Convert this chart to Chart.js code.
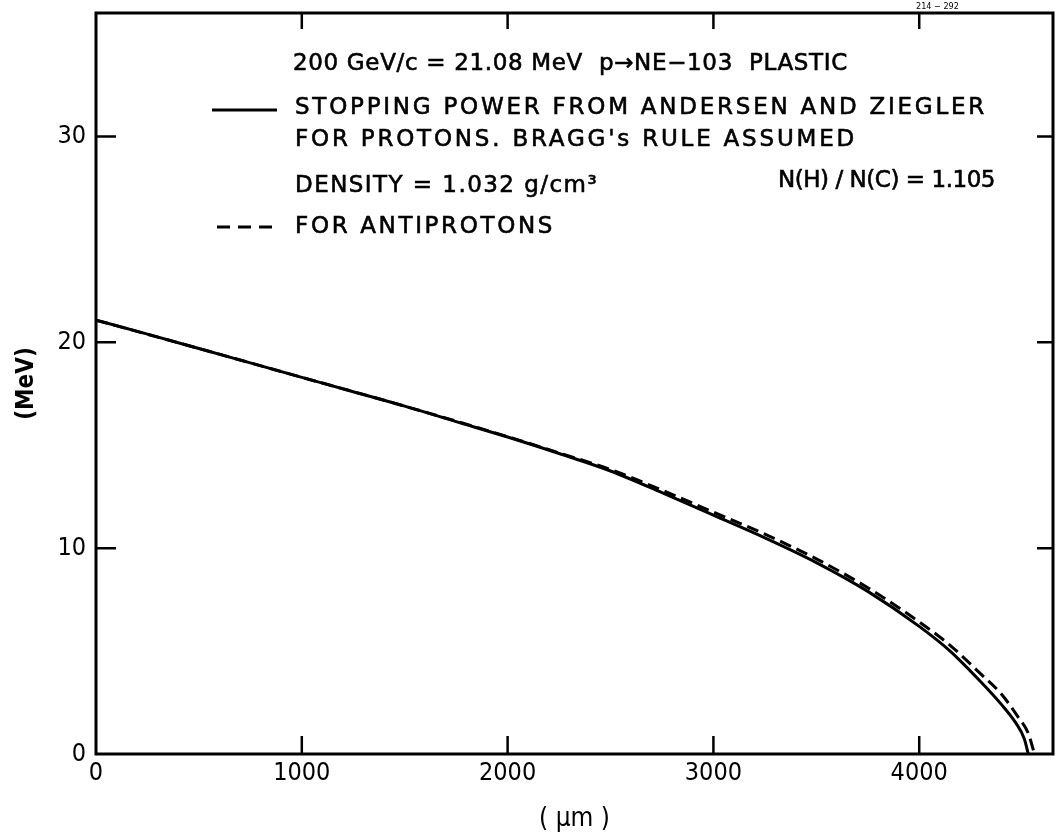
<!DOCTYPE html>
<html>
<head>
<meta charset="utf-8">
<script src="https://cdn.jsdelivr.net/npm/chart.js@4.4.0/dist/chart.umd.min.js"></script>
<style>
  html, body { margin: 0; padding: 0; background: #fff; }
  #wrap { width: 1057px; height: 836px; }
</style>
</head>
<body>
<div id="wrap"><canvas id="chart"></canvas></div>
<script>
// Energy vs depth in NE-103 plastic
const protonX = [0, 250, 500, 750, 1000, 1250, 1500, 1750, 2000, 2250, 2500, 2750, 3000, 3250, 3500, 3750, 4000, 4150, 4300, 4400, 4470, 4510, 4530];
const protonE = [21.08, 20.4, 19.7, 19.0, 18.3, 17.6, 16.9, 16.15, 15.4, 14.6, 13.75, 12.7, 11.6, 10.5, 9.3, 7.9, 6.2, 5.0, 3.5, 2.4, 1.5, 0.75, 0];

const antiX = [0, 500, 1000, 1500, 2000, 2250, 2500, 2750, 3000, 3250, 3500, 3750, 4000, 4150, 4300, 4400, 4480, 4530, 4560];
const antiE = [21.08, 19.7, 18.3, 16.9, 15.42, 14.63, 13.82, 12.82, 11.75, 10.68, 9.48, 8.08, 6.42, 5.28, 3.88, 2.9, 1.8, 1.0, 0];

const xTickValues = [0, 1000, 2000, 3000, 4000];
const xTickLabels = ['0', '1000', '2000', '3000', '4000'];
const yTickValues = [0, 10, 20, 30];
const yTickLabels = ['0', '10', '20', '30'];

const NARROW = '"DejaVu Sans Condensed", "DejaVu Sans", sans-serif';
const WIDE = '"DejaVu Sans", sans-serif';

// text lines of the in-plot key: [text, x, y, width]
const noteLines = [
  ['200 GeV/c = 21.08 MeV  p\u2192NE\u2212103  PLASTIC', 293, 64, 555],
  ['STOPPING POWER FROM ANDERSEN AND ZIEGLER', 295, 108, 692],
  ['FOR PROTONS. BRAGG\'s RULE ASSUMED', 295, 140, 562],
  ['DENSITY = 1.032 g/cm\u00b3', 295, 186, 303],
  ['N(H) / N(C) = 1.105', 778, 181, 217],
  ['FOR ANTIPROTONS', 295, 227, 260]
];

function toPoints(xs, ys) {
  return xs.map((x, i) => ({ x: x, y: ys[i] }));
}

// inner tick marks, closed frame and the key
const frame = {
  id: 'frame',
  afterDraw(chart) {
    const ctx = chart.ctx;
    const a = chart.chartArea;
    const xs = chart.scales.x;
    const ys = chart.scales.y;
    ctx.save();
    ctx.strokeStyle = '#000';
    ctx.lineWidth = 3;
    ctx.strokeRect(a.left, a.top, a.right - a.left, a.bottom - a.top);
    ctx.lineWidth = 2.5;
    ctx.beginPath();
    yTickValues.slice(1).forEach(v => {
      const py = ys.getPixelForValue(v);
      ctx.moveTo(a.left, py); ctx.lineTo(a.left + 20, py);
      ctx.moveTo(a.right, py); ctx.lineTo(a.right - 16, py);
    });
    xTickValues.slice(1).forEach(v => {
      const px = xs.getPixelForValue(v);
      ctx.moveTo(px, a.bottom); ctx.lineTo(px, a.bottom - 18);
      ctx.moveTo(px, a.top); ctx.lineTo(px, a.top + 16);
    });
    ctx.stroke();

    // key text, stroked lightly to get the heavier lettering of the scan
    ctx.fillStyle = '#000';
    ctx.lineWidth = 0.6;
    ctx.font = '23px ' + WIDE;
    ctx.textBaseline = 'middle';
    noteLines.forEach(([t, x, y, w]) => {
      ctx.letterSpacing = '0px';
      const mw = ctx.measureText(t).width;
      const n = [...t].length;
      ctx.letterSpacing = ((w - mw) / n).toFixed(2) + 'px';
      ctx.fillText(t, x, y);
      ctx.strokeText(t, x, y);
    });
    ctx.letterSpacing = '0px';

    // key samples
    ctx.lineWidth = 3;
    ctx.beginPath();
    ctx.moveTo(212, 110); ctx.lineTo(277, 110);
    ctx.stroke();
    ctx.setLineDash([13, 8]);
    ctx.beginPath();
    ctx.moveTo(217, 227); ctx.lineTo(276, 227);
    ctx.stroke();
    ctx.setLineDash([]);

    ctx.font = '9px ' + NARROW;
    ctx.fillText('214 \u2212 292', 916, 7);
    ctx.restore();
  }
};

new Chart(document.getElementById('chart'), {
  type: 'scatter',
  data: {
    datasets: [
      {
        label: 'protons',
        data: toPoints(protonX, protonE),
        showLine: true,
        borderColor: '#000',
        borderWidth: 3,
        pointRadius: 0,
        cubicInterpolationMode: 'monotone'
      },
      {
        label: 'antiprotons',
        data: toPoints(antiX, antiE),
        showLine: true,
        borderColor: '#000',
        borderWidth: 3,
        borderDash: [12, 6],
        pointRadius: 0,
        cubicInterpolationMode: 'monotone'
      }
    ]
  },
  options: {
    responsive: true,
    maintainAspectRatio: false,
    animation: false,
    layout: { padding: { top: 13, right: 4, left: 0, bottom: 0 } },
    plugins: {
      legend: { display: false },
      tooltip: { enabled: false }
    },
    scales: {
      x: {
        type: 'linear',
        min: 0,
        max: 4650,
        afterBuildTicks: s => { s.ticks = xTickValues.map(v => ({ value: v })); },
        afterFit: s => { s.height = 82; s.paddingLeft = 0; s.paddingRight = 0; },
        grid: { display: false, drawTicks: false },
        border: { display: false },
        ticks: {
          color: '#000',
          padding: 4,
          font: { family: NARROW, size: 25 },
          maxRotation: 0,
          callback: (v) => xTickLabels[xTickValues.indexOf(v)]
        },
        title: {
          display: true,
          text: '( \u03bcm )',
          color: '#000',
          font: { family: NARROW, size: 26 },
          padding: { top: 0, bottom: 1 }
        }
      },
      y: {
        type: 'linear',
        min: 0,
        max: 36,
        afterBuildTicks: s => { s.ticks = yTickValues.map(v => ({ value: v })); },
        afterFit: s => { s.width = 96; s.paddingTop = 0; s.paddingBottom = 0; },
        grid: { display: false, drawTicks: false },
        border: { display: false },
        ticks: {
          color: '#000',
          padding: 10,
          font: { family: NARROW, size: 25 },
          callback: (v) => yTickLabels[yTickValues.indexOf(v)]
        },
        title: {
          display: true,
          text: '(MeV)',
          color: '#000',
          font: { family: NARROW, size: 24, weight: 'bold' },
          padding: { top: 12, bottom: 0 }
        }
      }
    }
  },
  plugins: [frame]
});
</script>
</body>
</html>
